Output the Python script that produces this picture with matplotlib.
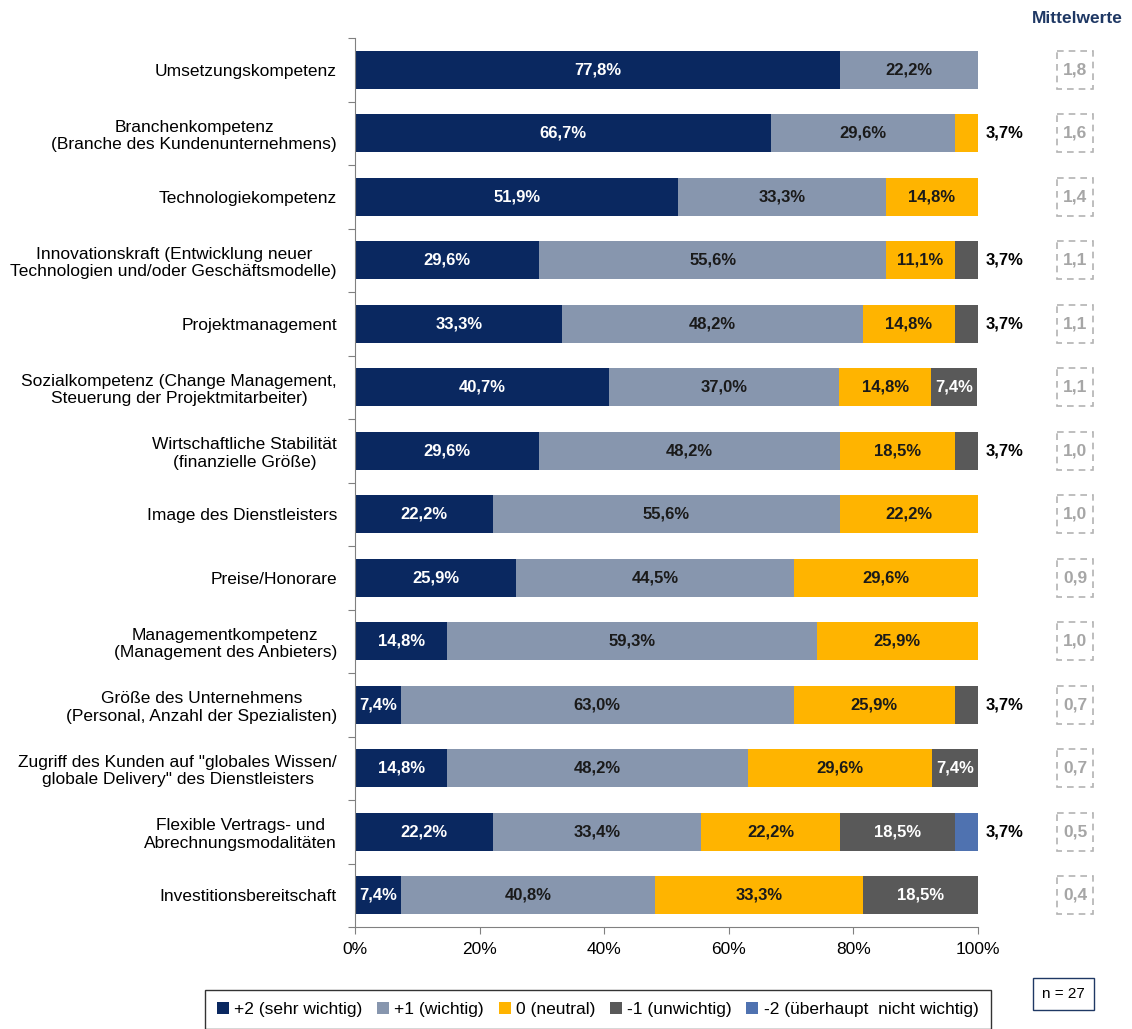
import matplotlib.pyplot as plt
import matplotlib.transforms as mtransforms
from matplotlib.patches import Rectangle
import numpy as np

plt.rcParams['font.family'] = ['Liberation Sans Narrow', 'Liberation Sans', 'DejaVu Sans']

categories = [
    "Umsetzungskompetenz",
    "Branchenkompetenz\n(Branche des Kundenunternehmens)",
    "Technologiekompetenz",
    "Innovationskraft (Entwicklung neuer\nTechnologien und/oder Geschäftsmodelle)",
    "Projektmanagement",
    "Sozialkompetenz (Change Management,\nSteuerung der Projektmitarbeiter)",
    "Wirtschaftliche Stabilität\n(finanzielle Größe)",
    "Image des Dienstleisters",
    "Preise/Honorare",
    "Managementkompetenz\n(Management des Anbieters)",
    "Größe des Unternehmens\n(Personal, Anzahl der Spezialisten)",
    "Zugriff des Kunden auf \"globales Wissen/\nglobale Delivery\" des Dienstleisters",
    "Flexible Vertrags- und\nAbrechnungsmodalitäten",
    "Investitionsbereitschaft",
]

sehr_wichtig = [77.8, 66.7, 51.9, 29.6, 33.3, 40.7, 29.6, 22.2, 25.9, 14.8, 7.4, 14.8, 22.2, 7.4]
wichtig = [22.2, 29.6, 33.3, 55.6, 48.2, 37.0, 48.2, 55.6, 44.5, 59.3, 63.0, 48.2, 33.4, 40.8]
neutral = [0, 3.7, 14.8, 11.1, 14.8, 14.8, 18.5, 22.2, 29.6, 25.9, 25.9, 29.6, 22.2, 33.3]
unwichtig = [0, 0, 0, 3.7, 3.7, 7.4, 3.7, 0, 0, 0, 3.7, 7.4, 18.5, 18.5]
ueberhaupt_nicht = [0, 0, 0, 0, 0, 0, 0, 0, 0, 0, 0, 0, 3.7, 0]

mittelwerte = [1.8, 1.6, 1.4, 1.1, 1.1, 1.1, 1.0, 1.0, 0.9, 1.0, 0.7, 0.7, 0.5, 0.4]

series_names = ["+2 (sehr wichtig)", "+1 (wichtig)", "0 (neutral)",
                "-1 (unwichtig)", "-2 (überhaupt  nicht wichtig)"]
series = [sehr_wichtig, wichtig, neutral, unwichtig, ueberhaupt_nicht]
colors = ["#0A2860", "#8796AE", "#FFB400", "#595959", "#4F72B0"]
text_colors = ["white", "#1a1a1a", "#1a1a1a", "white", "white"]

fig = plt.figure(figsize=(11.32, 10.29), dpi=100)
ax = fig.add_axes([0.3136, 0.099, 0.5504, 0.864])

y = np.arange(len(categories))
left = np.zeros(len(categories))
for vals, name, col, tcol in zip(series, series_names, colors, text_colors):
    vals = np.array(vals)
    ax.barh(y, vals, left=left, height=0.6, color=col, label=name, linewidth=0)
    for i, v in enumerate(vals):
        if v <= 0:
            continue
        lbl = f"{v:.1f}%".replace(".", ",")
        if v >= 7:
            ax.text(left[i] + v / 2, y[i], lbl, ha="center", va="center",
                    color=tcol, fontsize=12, fontweight="bold")
        else:
            # small segments are labelled right of the bar
            ax.text(101.2, y[i], lbl, ha="left", va="center",
                    color="black", fontsize=12, fontweight="bold")
    left += vals

ax.set_xlim(0, 100)
ax.set_ylim(len(categories) - 0.5, -0.5)
ax.set_xticks(np.arange(0, 101, 20))
ax.set_xticklabels([f"{t}%" for t in range(0, 101, 20)], fontsize=12.5)
ax.set_yticks(np.arange(-0.5, len(categories), 1))
ax.set_yticklabels([])
ax.set_yticks(y, minor=True)
ax.set_yticklabels(categories, minor=True, fontsize=12.5)
for t in ax.get_yticklabels(minor=True):
    t.set_multialignment("center")
ax.tick_params(axis="y", which="minor", length=0, pad=13)
ax.tick_params(axis="y", which="major", length=5, color="#808080")
ax.tick_params(axis="x", length=5, color="#808080", pad=6)
for s in ["top", "right"]:
    ax.spines[s].set_visible(False)
for s in ["left", "bottom"]:
    ax.spines[s].set_color("#808080")

# Mittelwerte column
trans = mtransforms.blended_transform_factory(fig.transFigure, ax.transData)
fig.text(0.952, 0.982, "Mittelwerte", ha="center", va="center",
         color="#1F3864", fontsize=12.5, fontweight="bold")
bw = 36 / 1132
for i, m in enumerate(mittelwerte):
    r = Rectangle((0.9497 - bw / 2, i - 0.3), bw, 0.6, transform=trans,
                  fill=False, edgecolor="#B3B3B3", linestyle=(0, (4, 3)),
                  linewidth=1.2, clip_on=False)
    ax.add_patch(r)
    ax.text(0.9497, i, f"{m:.1f}".replace(".", ","), transform=trans,
            ha="center", va="center", color="#A6A6A6", fontsize=12.5,
            fontweight="bold")

fig.text(0.9395, 0.034, "n = 27", ha="center", va="center", fontsize=11,
         bbox=dict(boxstyle="square,pad=0.6", facecolor="white",
                   edgecolor="#1F3864", linewidth=1))

leg = fig.legend(loc="upper left", bbox_to_anchor=(0.181, 0.038, 0.694, 0.0),
                 mode="expand", ncol=5, fontsize=12.5, frameon=True,
                 handlelength=0.7, handleheight=0.7, handletextpad=0.3,
                 columnspacing=1.2, borderpad=0.7, borderaxespad=0,
                 fancybox=False)
leg.get_frame().set_edgecolor("black")
leg.get_frame().set_linewidth(1)

fig.savefig("out.png", dpi=100)
